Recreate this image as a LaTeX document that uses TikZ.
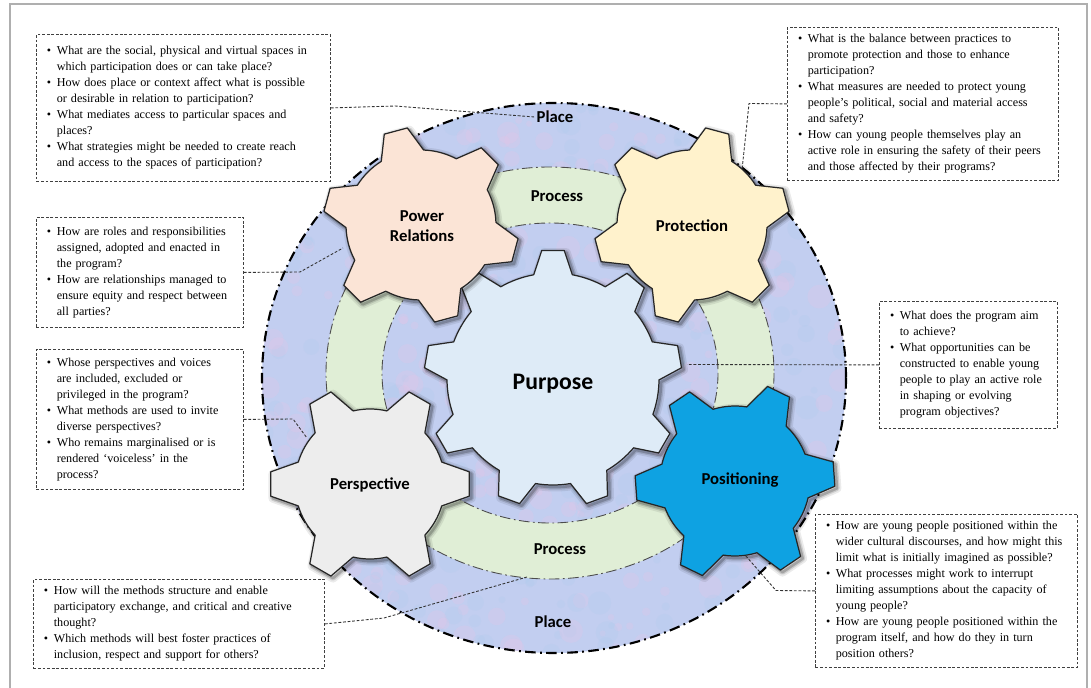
\documentclass[tikz,border=0pt]{standalone}
\usepackage{fontspec}
\setmainfont{Liberation Serif}
\newfontfamily\cf{Carlito}
\setlength{\parindent}{0pt}
\definecolor{discc}{RGB}{194,206,240}
\definecolor{blobp}{RGB}{232,196,230}
\definecolor{blobb}{RGB}{172,204,238}
\definecolor{bandc}{RGB}{224,238,214}
\definecolor{powc}{RGB}{251,228,214}
\definecolor{proc}{RGB}{255,242,204}
\definecolor{purc}{RGB}{222,235,247}
\definecolor{perc}{RGB}{237,237,237}
\definecolor{posc}{RGB}{14,162,226}
\definecolor{framec}{RGB}{175,175,175}
\newcommand\bl{\makebox[5.6pt][l]{\textbullet}}
\newcommand\ind{\hspace*{5.6pt}}
% #1 style, #2 cx, #3 cy, #4 tip r, #5 body r, #6 teeth, #7 rotation, #8 tip half angle, #9 base half angle
\newcommand\drawgear[9]{%
 \begin{scope}[shift={(#2,#3)}]
 \pgfmathsetmacro\gstep{360/#6}
 \path[#1] ({#7-#9}:#5) \foreach \k in {1,...,#6}{
   -- ({#7+(\k-1)*\gstep-#8}:#4) -- ({#7+(\k-1)*\gstep+#8}:#4) -- ({#7+(\k-1)*\gstep+#9}:#5)
   arc[start angle={#7+(\k-1)*\gstep+#9}, end angle={#7+\k*\gstep-#9}, radius=#5]
 } -- cycle;
 \end{scope}}
\begin{document}
\begin{tikzpicture}[x=0.02cm, y=-0.02cm,
  lab/.style={font=\cf\bfseries\fontsize{9.5}{11}\selectfont, inner sep=1pt},
  qbox/.style={draw=black!75, line width=0.5pt, dash pattern=on 1.6pt off 1pt, fill=white, anchor=north west, inner xsep=6pt, inner ysep=0pt, align=left, font=\fontsize{6.9}{9.1}\selectfont},
  link/.style={black!80, line width=0.5pt, dash pattern=on 1.6pt off 1pt},
  gearline/.style={draw=black!85, line width=0.7pt, line join=round,
    preaction={draw=black, line width=5pt, line join=round, opacity=0.08, transform canvas={shift={(1.2pt,-1.2pt)}}},
    preaction={draw=black, line width=3pt, line join=round, opacity=0.12, transform canvas={shift={(1.2pt,-1.2pt)}}},
    preaction={draw=black, line width=1.5pt, line join=round, opacity=0.2, transform canvas={shift={(1.2pt,-1.2pt)}}}},
  bandedge/.style={draw=black!70, line width=0.5pt, dash pattern=on 6pt off 2pt on 1pt off 2pt},
]
\useasboundingbox (0,0) rectangle (1091,688);
\fill[white] (0,0) rectangle (1091,688);
\draw[framec, line width=1.6pt] (10,4) rectangle (1087,700);

% background disc
\fill[discc] (554,378) ellipse [x radius=292, y radius=275];
\begin{scope}
\clip (554,378) ellipse [x radius=292, y radius=275];
\pgfmathsetseed{7}
\foreach \i in {1,...,600}{
  \pgfmathsetmacro\xx{262+rnd*585}
  \pgfmathsetmacro\yy{103+rnd*550}
  \pgfmathsetmacro\rr{3+rnd*9}
  \pgfmathsetmacro\cc{rnd}
  \ifdim\cc pt<0.5pt
    \fill[blobp, opacity=0.25] (\xx,\yy) circle[radius=\rr];
  \else
    \fill[blobb, opacity=0.22] (\xx,\yy) circle[radius=\rr];
  \fi
}
\end{scope}
\draw[black, line width=1.2pt, dash pattern=on 6pt off 2.5pt on 1pt off 2.5pt] (554,378) ellipse [x radius=292, y radius=275];

% process ring
\fill[bandc, even odd rule] (550,373) ellipse [x radius=224, y radius=206] (550,373) ellipse [x radius=168, y radius=150];
\draw[bandedge] (550,373) ellipse [x radius=224, y radius=206];
\draw[bandedge] (550,373) ellipse [x radius=168, y radius=150];

% gears
\drawgear{gearline, fill=purc}{553}{379}{129}{106}{9}{30}{5}{10.5}
\drawgear{gearline, fill=powc}{421}{225}{98}{75}{6}{15}{7}{17}
\drawgear{gearline, fill=proc}{692}{225}{98}{75}{6}{45}{7}{17}
\drawgear{gearline, fill=perc}{370}{484}{100}{75}{6}{0}{7}{17}
\drawgear{gearline, fill=posc}{735}{481}{100}{75}{6}{-4}{7}{17}

% labels
\node[lab] (placeT) at (555,117) {Place};
\node[lab] (placeB) at (553,622) {Place};
\node[lab] (procT) at (557,196) {Process};
\node[lab] (procB) at (560,549) {Process};
\node[lab, align=center] (power) at (422,226) {Power\\Relations};
\node[lab] (prot) at (692,226) {Protection};
\node[lab] (persp) at (370,485) {Perspective};
\node[lab] (posi) at (740,480) {Positioning};
\node[font=\cf\bfseries\fontsize{13.5}{15}\selectfont, inner sep=1pt] (purp) at (553,384) {Purpose};

% question boxes
\node[qbox, minimum width=5.88cm, minimum height=2.94cm, text width=5.458cm] (b1) at (36,34) {%
\bl\mbox{What are the social, physical and virtual spaces in}\\
\ind\mbox{which participation does or can take place?}\\
\bl\mbox{How does place or context affect what is possible}\\
\ind\mbox{or desirable in relation to participation?}\\
\bl\mbox{What mediates access to particular spaces and}\\
\ind\mbox{places?}\\
\bl\mbox{What strategies might be needed to create reach}\\
\ind\mbox{and access to the spaces of participation?}};

\node[qbox, minimum width=5.42cm, minimum height=3.06cm, text width=4.998cm] (b2) at (787,27) {%
\bl\mbox{What is the balance between practices to}\\
\ind\mbox{promote protection and those to enhance}\\
\ind\mbox{participation?}\\
\bl\mbox{What measures are needed to protect young}\\
\ind\mbox{people’s political, social and material access}\\
\ind\mbox{and safety?}\\
\bl\mbox{How can young people themselves play an}\\
\ind\mbox{active role in ensuring the safety of their peers}\\
\ind\mbox{and those affected by their programs?}};

\node[qbox, minimum width=4.14cm, minimum height=2.20cm, text width=3.718cm] (b3) at (36,217) {%
\bl\mbox{How are roles and responsibilities}\\
\ind\mbox{assigned, adopted and enacted in}\\
\ind\mbox{the program?}\\
\bl\mbox{How are relationships managed to}\\
\ind\mbox{ensure equity and respect between}\\
\ind\mbox{all parties?}};

\node[qbox, minimum width=4.14cm, minimum height=2.80cm, text width=3.718cm] (b4) at (36,349) {%
\bl\mbox{Whose perspectives and voices}\\
\ind\mbox{are included, excluded or}\\
\ind\mbox{privileged in the program?}\\
\bl\mbox{What methods are used to invite}\\
\ind\mbox{diverse perspectives?}\\
\bl\mbox{Who remains marginalised or is}\\
\ind\mbox{rendered ‘voiceless’ in the}\\
\ind\mbox{process?}};

\node[qbox, minimum width=3.56cm, minimum height=2.54cm, text width=3.138cm] (b5) at (879,301) {%
\bl\mbox{What does the program aim}\\
\ind\mbox{to achieve?}\\
\bl\mbox{What opportunities can be}\\
\ind\mbox{constructed to enable young}\\
\ind\mbox{people to play an active role}\\
\ind\mbox{in shaping or evolving}\\
\ind\mbox{program objectives?}};

\node[qbox, minimum width=5.82cm, minimum height=1.78cm, text width=5.398cm] (b6) at (33,579) {%
\bl\mbox{How will the methods structure and enable}\\
\ind\mbox{participatory exchange, and critical and creative}\\
\ind\mbox{thought?}\\
\bl\mbox{Which methods will best foster practices of}\\
\ind\mbox{inclusion, respect and support for others?}};

\node[qbox, minimum width=5.24cm, minimum height=3.06cm, text width=4.818cm] (b7) at (815,514) {%
\bl\mbox{How are young people positioned within the}\\
\ind\mbox{wider cultural discourses, and how might this}\\
\ind\mbox{limit what is initially imagined as possible?}\\
\bl\mbox{What processes might work to interrupt}\\
\ind\mbox{limiting assumptions about the capacity of}\\
\ind\mbox{young people?}\\
\bl\mbox{How are young people positioned within the}\\
\ind\mbox{program itself, and how do they in turn}\\
\ind\mbox{position others?}};

% connectors
\coordinate (k1) at (395,106);
\coordinate (k2a) at (749,103.5);
\coordinate (k2b) at (742,170);
\coordinate (k3a) at (300,272);
\coordinate (k3b) at (343,248);
\coordinate (k4a) at (293,419);
\coordinate (k4b) at (307,438);
\coordinate (k5) at (687,364.5);
\coordinate (k6a) at (384,618);
\coordinate (k6b) at (527,577);
\coordinate (k7a) at (776,590.5);
\coordinate (k7b) at (745,555);
\draw[link] (b1.east) -- (k1) -- (placeT.west);
\draw[link] (b2.west) -- (k2a) -- (k2b);
\draw[link] (b3.east) -- (k3a) -- (k3b);
\draw[link] (b4.east) -- (k4a) -- (k4b);
\draw[link] (b5.west) -- (k5);
\draw[link] (b6.east) -- (k6a) -- (k6b);
\draw[link] (b7.west) -- (k7a) -- (k7b);
\end{tikzpicture}
\end{document}
